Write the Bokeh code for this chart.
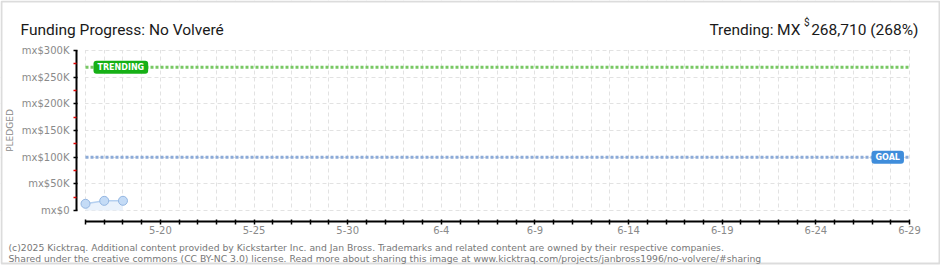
import pandas as pd
from bokeh.plotting import figure
from bokeh.models import Label, BoxAnnotation, FixedTicker, Range1d
from bokeh.embed import file_html
from bokeh.resources import INLINE

# ---------------- data ----------------
dates = ["2025-05-16", "2025-05-17", "2025-05-18"]
pledged = [12600, 18100, 18200]
goal = 100000
trending = 268710
range_start = "2025-05-16"
range_end = "2025-06-29"
first_labeled_date = "2025-05-20"
x_label_every = 5
y_ticks = [0, 50000, 100000, 150000, 200000, 250000, 300000]
y_tick_labels = ["mx$0", "mx$50K", "mx$100K", "mx$150K", "mx$200K", "mx$250K", "mx$300K"]
y_minor_ticks = [25000, 75000, 125000, 175000, 225000, 275000]
title_text = "Funding Progress: No Volveré"
footer_lines = [
    "(c)2025 Kicktraq. Additional content provided by Kickstarter Inc. and Jan Bross. Trademarks and related content are owned by their respective companies.",
    "Shared under the creative commons (CC BY-NC 3.0) license. Read more about sharing this image at www.kicktraq.com/projects/janbross1996/no-volvere/#sharing",
]

# ---------------- derived ----------------
t0 = pd.Timestamp(range_start)
days = [(pd.Timestamp(d) - t0).days for d in dates]
n_days = (pd.Timestamp(range_end) - t0).days
all_days = list(range(n_days + 1))
first_lab = (pd.Timestamp(first_labeled_date) - t0).days
x_overrides = {}
for d in all_days:
    dt = t0 + pd.Timedelta(days=d)
    x_overrides[d] = f"{dt.month}-{dt.day}" if (d - first_lab) % x_label_every == 0 else ""
y_overrides = {t: l for t, l in zip(y_ticks, y_tick_labels)}

# ---------------- geometry (frame = whole canvas) ----------------
W, H = 940, 270
PX0, PX1 = 85, 909      # canvas x of first / last day
PY0, PY1 = 210, 50      # canvas y of 0 / top tick
ymax = y_ticks[-1]
ppd = (PX1 - PX0) / n_days
ppv = (PY0 - PY1) / ymax


def X(cx):
    return (cx - PX0) / ppd


def Y(cy):
    return (PY0 - cy) / ppv


p = figure(width=W, height=H, x_range=Range1d(X(0), X(W)), y_range=Range1d(Y(H), Y(0)),
           output_backend="svg", toolbar_location=None, title=None,
           min_border_left=0, min_border_right=0, min_border_top=0, min_border_bottom=0)
p.outline_line_color = None
p.background_fill_color = "white"
p.border_fill_color = "white"

GREY = "#8a8a8a"
TICKFONT = "DejaVu Sans"

# x axis
xa = p.xaxis[0]
xa.fixed_location = Y(220.5)
xa.ticker = FixedTicker(ticks=all_days)
xa.major_label_overrides = x_overrides
xa.bounds = (0, n_days)
xa.axis_line_color = "black"
xa.axis_line_width = 2
xa.major_tick_line_color = "black"
xa.major_tick_line_width = 1.5
xa.major_tick_in = 2
xa.major_tick_out = 3
xa.minor_tick_line_color = None
xa.major_label_standoff = 2
xa.major_label_text_font = TICKFONT
xa.major_label_text_font_size = "10px"
xa.major_label_text_color = GREY

# y axis
ya = p.yaxis[0]
ya.fixed_location = X(76)
ya.ticker = FixedTicker(ticks=y_ticks, minor_ticks=y_minor_ticks)
ya.major_label_overrides = y_overrides
ya.bounds = (0, ymax)
ya.axis_line_color = "black"
ya.axis_line_width = 2
ya.major_tick_line_color = "black"
ya.major_tick_line_width = 1.5
ya.major_tick_in = 1
ya.major_tick_out = 3
ya.minor_tick_line_color = "#e00000"
ya.minor_tick_line_width = 1.5
ya.minor_tick_in = 0
ya.minor_tick_out = 3
ya.major_label_standoff = 4
ya.major_label_text_font = TICKFONT
ya.major_label_text_font_size = "10px"
ya.major_label_text_color = GREY
ya.axis_label = "PLEDGED"
ya.axis_label_text_font = TICKFONT
ya.axis_label_text_font_size = "9px"
ya.axis_label_text_font_style = "normal"
ya.axis_label_text_color = GREY
ya.axis_label_standoff = 4

# grids
for g in (p.xgrid, p.ygrid):
    g.grid_line_color = "#e2e2e2"
    g.grid_line_dash = "4 3"

# restrict grid to the plotting region
for kw in (dict(right=X(PX0 - 0.5)), dict(left=X(PX1 + 0.6)),
           dict(bottom=Y(PY1 - 0.5)), dict(top=Y(PY0 + 0.5))):
    p.add_layout(BoxAnnotation(fill_color="white", fill_alpha=1, line_color=None,
                               level="underlay", **kw))

# goal & trending lines
p.line([0, n_days], [goal, goal], line_color="#8cabd8", line_width=3, line_dash="3 2")
p.line([0, n_days], [trending, trending], line_color="#78c864", line_width=3, line_dash="3 2")

# data
p.varea(x=days, y1=[0] * len(days), y2=pledged, fill_color="#eaf2fc")
p.line(days, pledged, line_color="#b5d0f0", line_width=1.5)
p.scatter(days, pledged, size=9, fill_color="#c4dbf6", line_color="#93b6e2", line_width=1)

# tags
p.add_layout(Label(x=X(93), y=trending, text="TRENDING", text_color="white",
                   text_font=TICKFONT, text_font_size="8px", text_font_style="bold",
                   text_baseline="middle", text_align="left",
                   background_fill_color="#16b016", border_radius=3,
                   padding=dict(left=4, right=4, top=2, bottom=2)))
p.add_layout(Label(x=X(871), y=goal, text="GOAL", text_color="white",
                   text_font=TICKFONT, text_font_size="8px", text_font_style="bold",
                   text_baseline="middle", text_align="left",
                   background_fill_color="#3f8ddb", border_radius=3,
                   padding=dict(left=4, right=4, top=2, bottom=2)))


def scr_label(cx, cy, text, **kw):
    p.add_layout(Label(x=cx, y=H - cy, x_units="screen", y_units="screen",
                       text=text, **kw))


HEAD = "Roboto"
DARK = "#1a1a1a"
HSIZE = "15.5px"
scr_label(20, 29, title_text, text_font=HEAD, text_font_size=HSIZE,
          text_color=DARK, text_baseline="alphabetic")
pct = int(trending / goal * 100)
scr_label(773, 29, "Trending:", text_font=HEAD, text_font_size=HSIZE,
          text_color=DARK, text_baseline="alphabetic", text_align="right")
scr_label(800, 29, "MX", text_font=HEAD, text_font_size=HSIZE,
          text_color=DARK, text_baseline="alphabetic", text_align="right")
scr_label(809, 22, "$", text_font=HEAD, text_font_size="10px",
          text_color=DARK, text_baseline="alphabetic", text_align="right")
scr_label(918, 29, f"{trending:,} ({pct}%)", text_font=HEAD, text_font_size=HSIZE,
          text_color=DARK, text_baseline="alphabetic", text_align="right")
scr_label(8, 247, footer_lines[0], text_font=TICKFONT, text_font_size="9.25px",
          text_color="#777777", text_baseline="alphabetic")
scr_label(8, 258, footer_lines[1], text_font=TICKFONT, text_font_size="9.25px",
          text_color="#777777", text_baseline="alphabetic")

# outer border
p.add_layout(BoxAnnotation(left=1, right=939, top=H - 1, bottom=H - 263,
                           left_units="screen", right_units="screen",
                           top_units="screen", bottom_units="screen",
                           fill_alpha=0, line_color=GREY, line_width=2))

open("out.html", "w").write(file_html(p, INLINE))
